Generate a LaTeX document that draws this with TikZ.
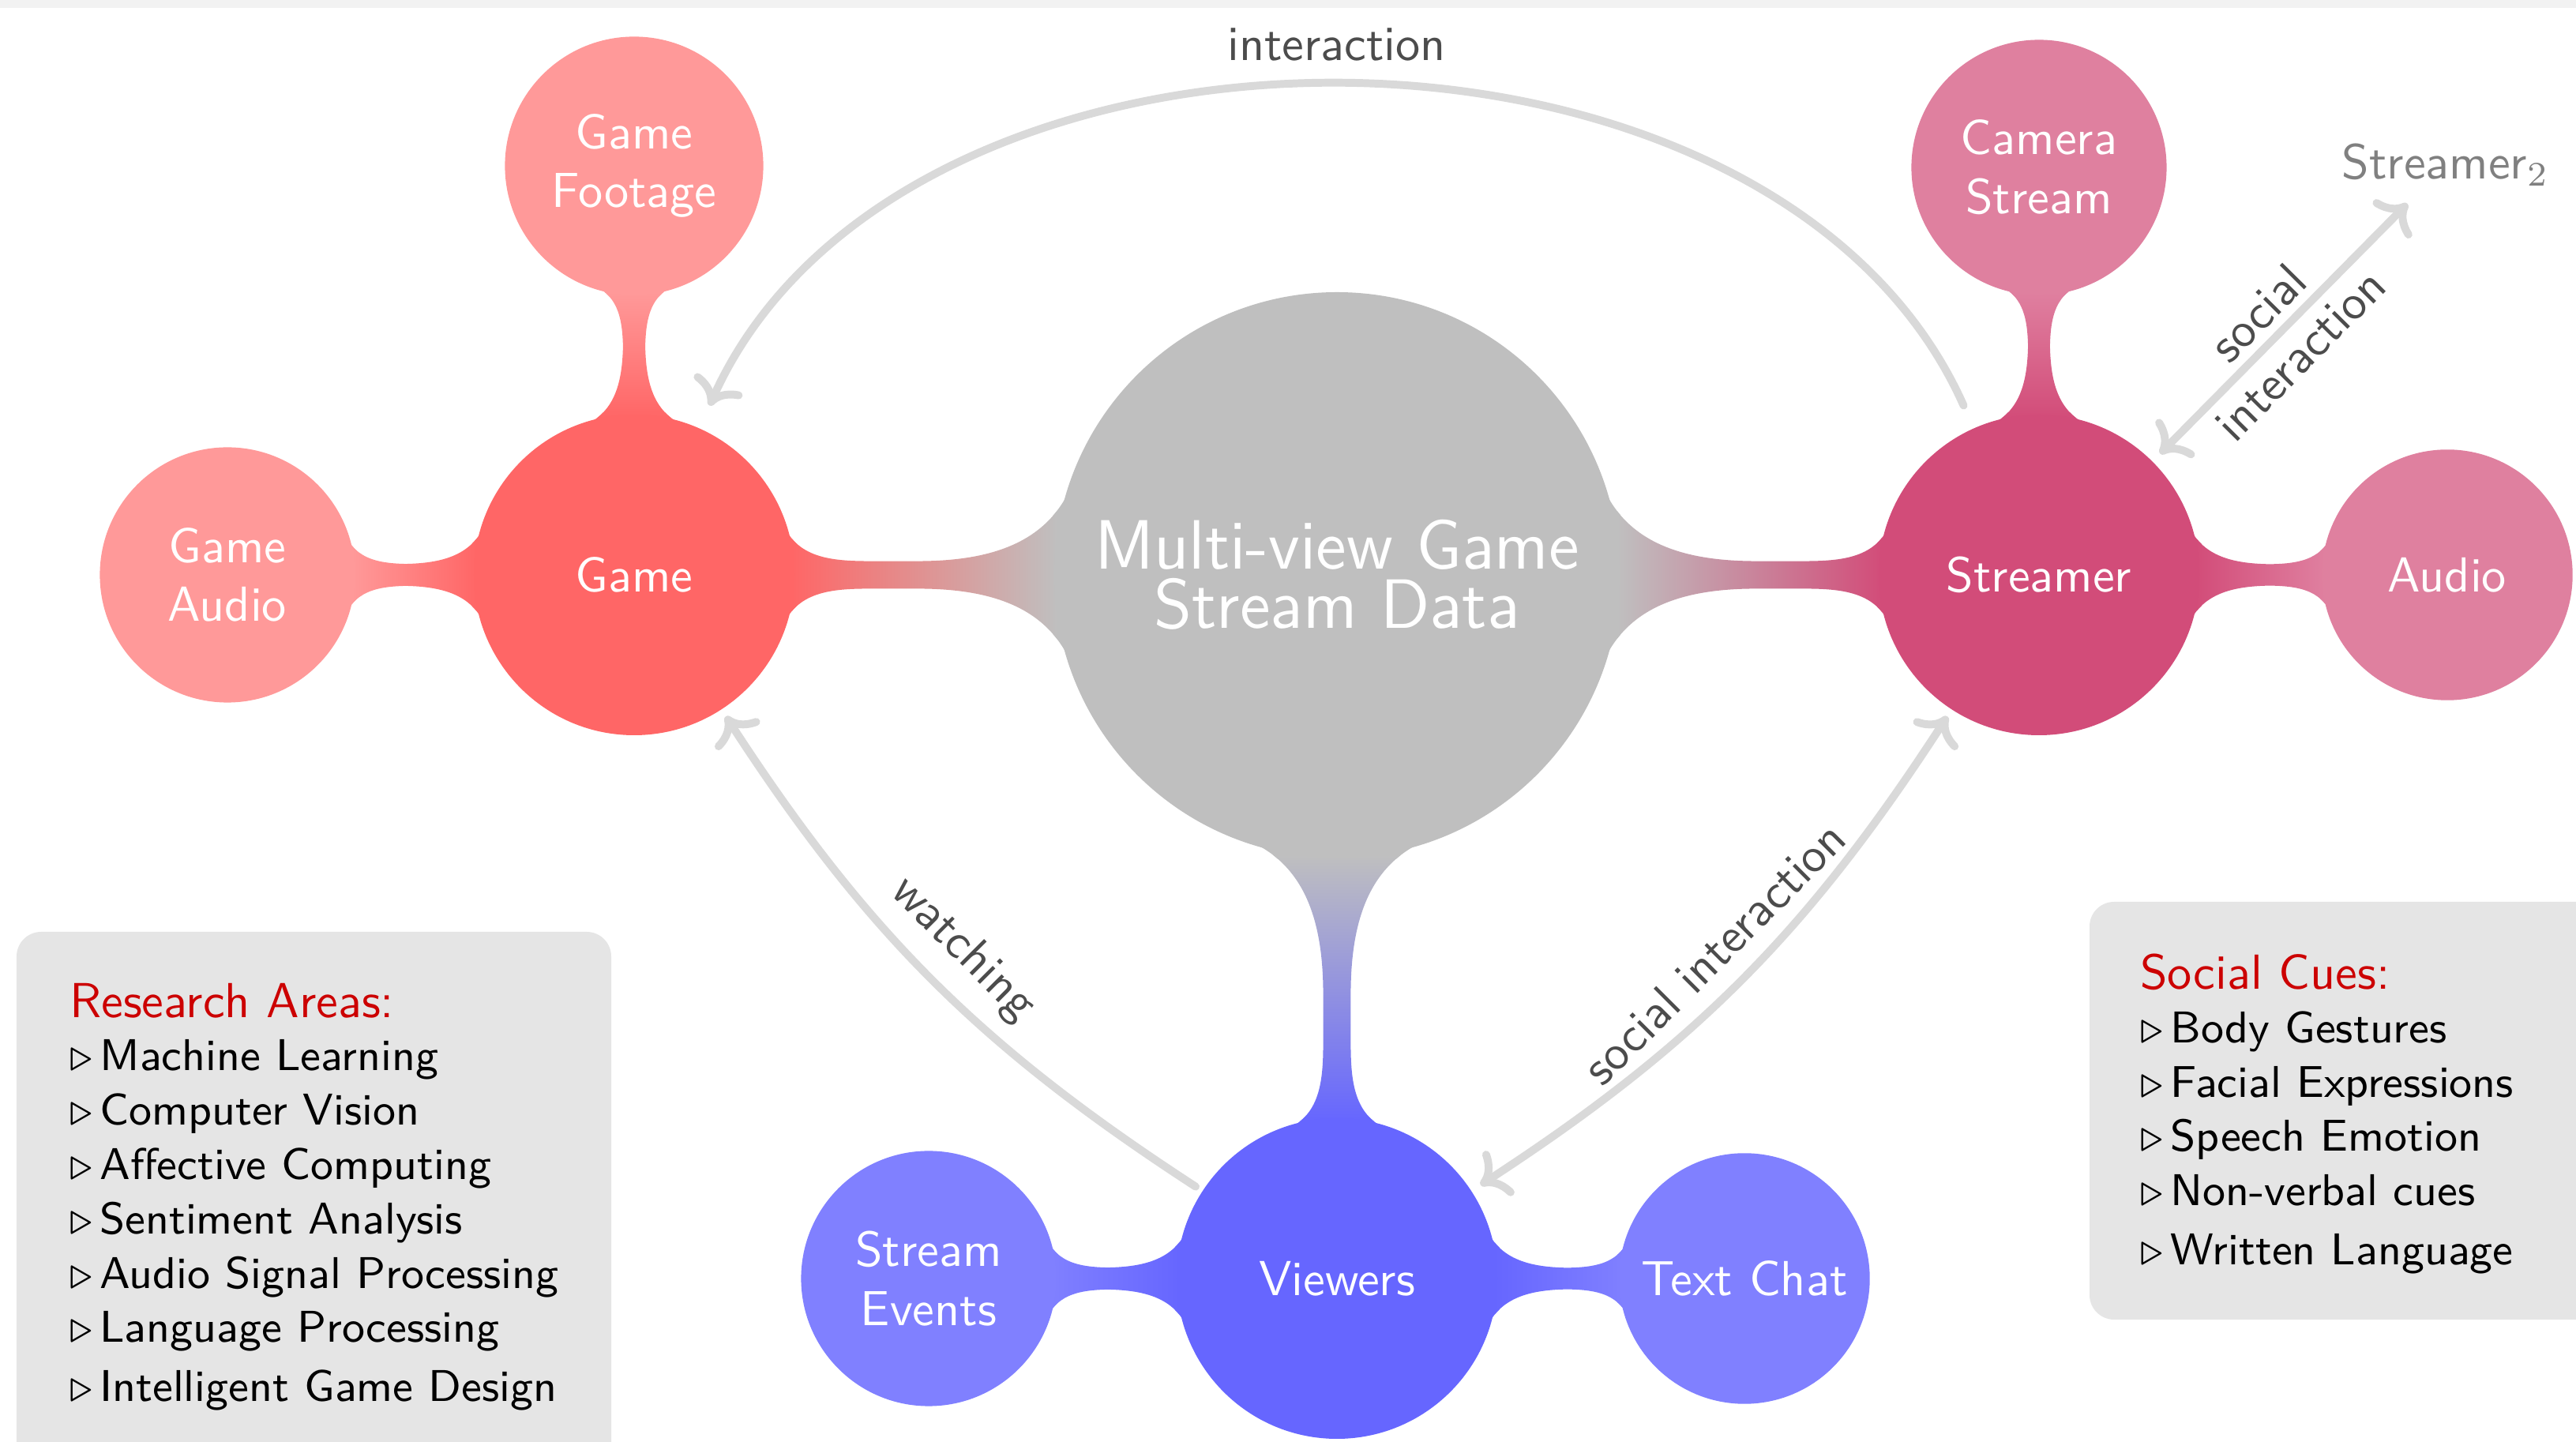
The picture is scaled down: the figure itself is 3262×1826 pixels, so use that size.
\documentclass[tikz,border=0pt]{standalone}
\usetikzlibrary{mindmap,arrows.meta}
\pgfdeclarelayer{background}
\pgfsetlayers{background,main}
\definecolor{hd}{RGB}{204,0,0}
\begin{document}
\begin{tikzpicture}[x=0.0056497cm,y=0.0056497cm,
  cpt/.style={concept, text=white, align=center, inner sep=0pt, font=\sffamily\fontsize{10}{12}\selectfont},
  bigc/.style={cpt, minimum size=4cm, text width=3.6cm, font=\sffamily\fontsize{14.2}{12}\selectfont},
  lvA/.style={cpt, minimum size=2.25cm, text width=2.1cm},
  lvB/.style={cpt, minimum size=1.75cm, text width=1.65cm},
  rel/.style={draw=black!15, line width=1.6pt, line cap=round, >={Computer Modern Rightarrow[round]}},
  lbl/.style={font=\sffamily\fontsize{10}{12}\selectfont, text=black!70},
  boxbg/.style={fill=black!10, rounded corners=5pt},
  boxtxt/.style={anchor=north west, align=left, inner sep=0pt, font=\sffamily\fontsize{9.05}{11.05}\selectfont}
]
\useasboundingbox (0,0) rectangle (3262,-1826);
\clip (0,0) rectangle (3262,-1826);
\fill[black!5] (0,0) rectangle (3262,-10);

% annotation boxes
\fill[boxbg] (21,-1180) rectangle (774,-1920);
\node[boxtxt] (research) at (87,-1244) {{\fontsize{10}{12}\selectfont\color{hd}Research Areas:}\\[-0.2pt]
$\triangleright$\,Machine Learning\\
$\triangleright$\,Computer Vision\\
$\triangleright$\,Affective Computing\\
$\triangleright$\,Sentiment Analysis\\
$\triangleright$\,Audio Signal Processing\\
$\triangleright$\,Language Processing\\[1pt]
$\triangleright$\,Intelligent Game Design};

\fill[boxbg] (2646,-1142) rectangle (3330,-1671);
\node[boxtxt] (cues) at (2709,-1207) {{\fontsize{10}{12}\selectfont\color{hd}Social Cues:}\\[-0.2pt]
$\triangleright$\,Body Gestures\\
$\triangleright$\,Facial Expressions\\
$\triangleright$\,Speech Emotion\\
$\triangleright$\,Non-verbal cues\\[1pt]
$\triangleright$\,Written Language};

\begin{scope}[mindmap]
  \node[bigc, concept color=black!25] (root) at (1693,-728) {Multi-view Game\\Stream Data};
  \node[lvA, concept color=red!60] (game) at (803,-728) {Game};
  \node[lvA, concept color=purple!70] (streamer) at (2582,-728) {Streamer};
  \node[lvA, concept color=blue!60] (viewers) at (1693,-1619) {Viewers};
  \node[lvB, concept color=red!40] (footage) at (803,-210) {Game\\Footage};
  \node[lvB, concept color=red!40] (gaudio) at (288,-728) {Game\\Audio};
  \node[lvB, concept color=purple!50] (camera) at (2582,-212) {Camera\\Stream};
  \node[lvB, concept color=purple!50] (audio) at (3099,-728) {Audio};
  \node[lvB, concept color=blue!50] (events) at (1176,-1619) {Stream\\Events};
  \node[lvB, concept color=blue!50] (chat) at (2209,-1619) {Text Chat};
  \begin{pgfonlayer}{background}
    \path (root) to[circle connection bar switch color=from (black!25) to (red!60)] (game);
    \path (root) to[circle connection bar switch color=from (black!25) to (purple!70)] (streamer);
    \path (root) to[circle connection bar switch color=from (black!25) to (blue!60)] (viewers);
    \path (game) to[circle connection bar switch color=from (red!60) to (red!40)] (footage);
    \path (game) to[circle connection bar switch color=from (red!60) to (red!40)] (gaudio);
    \path (streamer) to[circle connection bar switch color=from (purple!70) to (purple!50)] (camera);
    \path (streamer) to[circle connection bar switch color=from (purple!70) to (purple!50)] (audio);
    \path (viewers) to[circle connection bar switch color=from (blue!60) to (blue!50)] (events);
    \path (viewers) to[circle connection bar switch color=from (blue!60) to (blue!50)] (chat);
  \end{pgfonlayer}
\end{scope}

\node[lbl, text=black!50] (s2) at (3097,-209) {Streamer$_2$};

\draw[rel, ->, shorten <=0.2cm, shorten >=0.2cm] (streamer.114) to[out=114, in=66]
  node[midway, above=1.8pt, lbl] (lint) {interaction} (game.66);
\draw[rel, ->, shorten <=0.08cm, shorten >=0.08cm] (viewers) to[bend left=12]
  node[midway, sloped, above, lbl] (lwat) {watching} (game);
\draw[rel, <->, shorten <=0.1cm, shorten >=0.08cm] (viewers) to[bend right=12]
  node[midway, sloped, above, lbl] (lsoc) {social interaction} (streamer);
\draw[rel, <->, shorten <=0.1cm] (streamer.45) -- node[midway, sloped, lbl, align=center] (lsoc2) {social\\interaction} (s2);
\end{tikzpicture}
\end{document}
